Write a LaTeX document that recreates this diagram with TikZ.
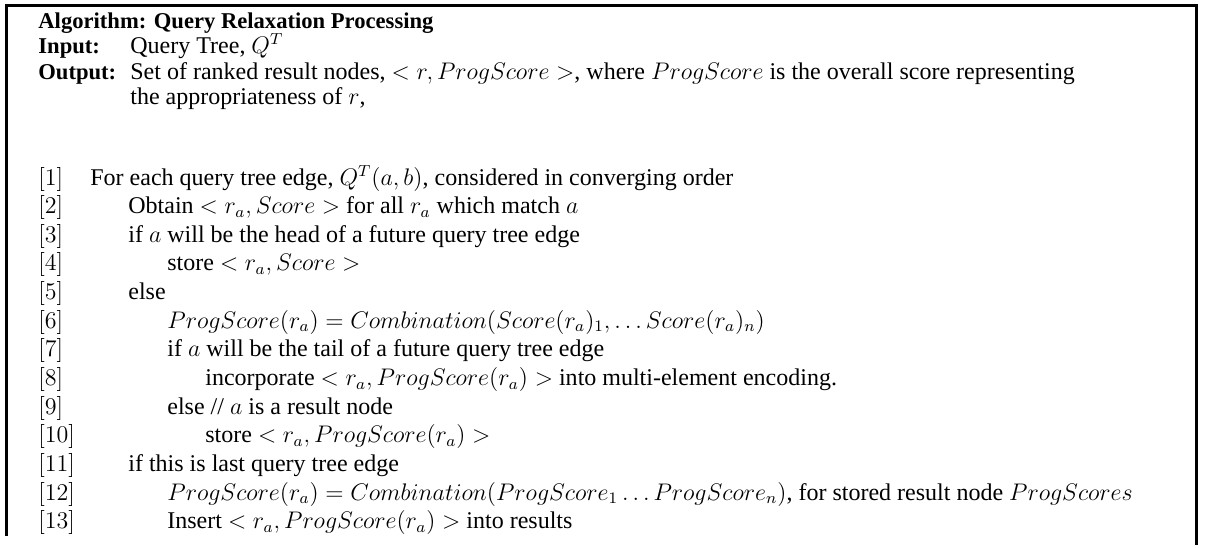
\documentclass[tikz,border=0pt]{standalone}
\usepackage[no-math]{fontspec}
\setmainfont{Liberation Serif}
\begin{document}
\begin{tikzpicture}[x=0.5pt,y=-0.5pt,
  txt/.style={anchor=base west,inner sep=0pt,font=\fontsize{12}{14}\selectfont},
  hdr/.style={txt,font=\fontsize{11.3}{13}\selectfont\bfseries},
  frame/.style={line width=1.5pt}]
\useasboundingbox (0,0) rectangle (1208,547);
% frame (open at the bottom)
\coordinate (tl) at (6.5,5);
\coordinate (tr) at (1196.5,5);
\coordinate (bl) at (6.5,536);
\coordinate (br) at (1196.5,545);
\draw[frame] (bl) -- (tl) -- (tr) -- (br);
% header
\node[hdr] (alg) at (38,28) {Algorithm: Query Relaxation Processing};
\node[hdr] (inl) at (38,53.5) {Input:};
\node[txt] (inv) at (130,53.5) {Query Tree, $Q^T$};
\node[hdr] (outl) at (38,79) {Output:};
\node[txt] (outv) at (130,79) {Set of ranked result nodes, $<r, ProgScore>$, where $ProgScore$ is the overall score representing};
\node[txt] (outw) at (130,104.5) {the appropriateness of $r$,};
% algorithm lines
\node[txt] (n1) at (38,185) {$[1]$};
\node[txt] (t1) at (90,185) {For each query tree edge, $Q^T(a,b)$, considered in converging order};
\node[txt] (n2) at (38,213.65) {$[2]$};
\node[txt] (t2) at (128,213.65) {Obtain $<r_a, Score>$ for all $r_a$ which match $a$};
\node[txt] (n3) at (38,242.3) {$[3]$};
\node[txt] (t3) at (128,242.3) {if $a$ will be the head of a future query tree edge};
\node[txt] (n4) at (38,270.95) {$[4]$};
\node[txt] (t4) at (167,270.95) {store $<r_a, Score>$};
\node[txt] (n5) at (38,299.6) {$[5]$};
\node[txt] (t5) at (128,299.6) {else};
\node[txt] (n6) at (38,328.25) {$[6]$};
\node[txt] (t6) at (167,328.25) {$ProgScore(r_a) = Combination(Score(r_a)_1, \ldots Score(r_a)_n)$};
\node[txt] (n7) at (38,356.9) {$[7]$};
\node[txt] (t7) at (167,356.9) {if $a$ will be the tail of a future query tree edge};
\node[txt] (n8) at (38,385.55) {$[8]$};
\node[txt] (t8) at (205,385.55) {incorporate $<r_a, ProgScore(r_a)>$ into multi-element encoding.};
\node[txt] (n9) at (38,414.2) {$[9]$};
\node[txt] (t9) at (167,414.2) {else // $a$ is a result node};
\node[txt] (n10) at (38,442.85) {$[10]$};
\node[txt] (t10) at (205,442.85) {store $<r_a, ProgScore(r_a)>$};
\node[txt] (n11) at (38,471.5) {$[11]$};
\node[txt] (t11) at (128,471.5) {if this is last query tree edge};
\node[txt] (n12) at (38,500.15) {$[12]$};
\node[txt] (t12) at (167,500.15) {$ProgScore(r_a) = Combination(ProgScore_1 \ldots ProgScore_n)$, for stored result node $ProgScores$};
\node[txt] (n13) at (38,528.8) {$[13]$};
\node[txt] (t13) at (167,528.8) {Insert $<r_a, ProgScore(r_a)>$ into results};
\end{tikzpicture}
\end{document}
